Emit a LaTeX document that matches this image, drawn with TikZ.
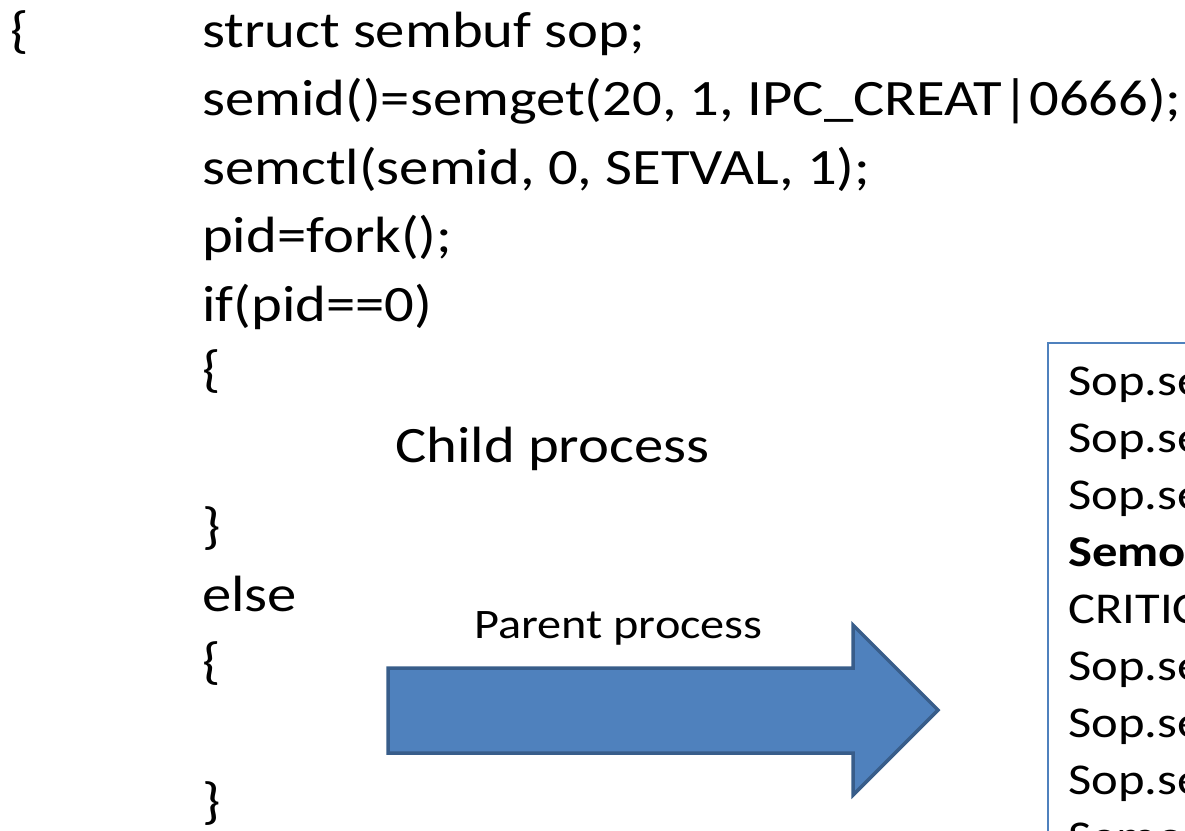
\documentclass[tikz,border=0pt]{standalone}
\usepackage{fontspec}
\setmainfont{Carlito}[FakeStretch=1.15]
\definecolor{arrowfill}{HTML}{4F81BD}
\definecolor{arrowline}{HTML}{385D8A}
\definecolor{boxline}{HTML}{4F81BD}
\begin{document}
\begin{tikzpicture}[x=1pt,y=-1pt,
  code/.style={anchor=base west, inner sep=0pt, font=\fontsize{51}{61}\selectfont},
  boxtext/.style={anchor=base west, inner sep=0pt, font=\fontsize{44}{53}\selectfont},
  bigarrow/.style={fill=arrowfill, draw=arrowline, line width=3.5pt, line join=miter},
  critbox/.style={draw=boxline, line width=1.5pt, fill=white}]
\useasboundingbox (0,0) rectangle (1185,830);
\clip (0,0) rectangle (1185,830);

% program text
\node[code] (open)   at (10,47)    {\{};
\node[code] (l1)     at (202,47)   {struct sembuf sop;};
\node[code] (l2)     at (202,115.5){semid()=semget(20, 1, IPC\_CREAT|0666);};
\node[code] (l3)     at (202,184)  {semctl(semid, 0, SETVAL, 1);};
\node[code] (l4)     at (202,252.5){pid=fork();};
\node[code] (l5)     at (202,321)  {if(pid==0)};
\node[code] (l6)     at (202,386)  {\{};
\node[code] (child)  at (395,462)  {Child process};
\node[code] (l7)     at (202,543)  {\}};
\node[code] (l8)     at (202,611)  {else};
\node[code] (l9)     at (202,678)  {\{};
\node[code] (l10)    at (202,818)  {\}};

% parent branch arrow
\draw[bigarrow] (388,668) -- (853,668) -- (853,625) -- (938,710)
  -- (853,795) -- (853,753) -- (388,753) -- cycle;
\node[boxtext, font=\fontsize{42}{50}\selectfont] (parent) at (474,638) {Parent process};

% parent's code box
\node[critbox, anchor=north west, minimum width=300pt, minimum height=600pt]
  (crit) at (1047,342) {};
\node[boxtext] (s1) at (1068,395) {Sop.sem\_num=0;};
\node[boxtext] (s2) at (1068,452) {Sop.sem\_op=-1;};
\node[boxtext] (s3) at (1068,509) {Sop.sem\_flg=0;};
\node[boxtext, font=\fontsize{44}{53}\selectfont\bfseries] (s4) at (1068,566) {Semop(semid, \&sop, 1);};
\node[boxtext] (s5) at (1068,623) {CRITICAL SECTION};
\node[boxtext] (s6) at (1068,680) {Sop.sem\_num=0;};
\node[boxtext] (s7) at (1068,737) {Sop.sem\_op=1;};
\node[boxtext] (s8) at (1068,794) {Sop.sem\_flg=0;};
\node[boxtext] (s9) at (1068,851) {Semop(semid, \&sop, 1);};
\end{tikzpicture}
\end{document}
